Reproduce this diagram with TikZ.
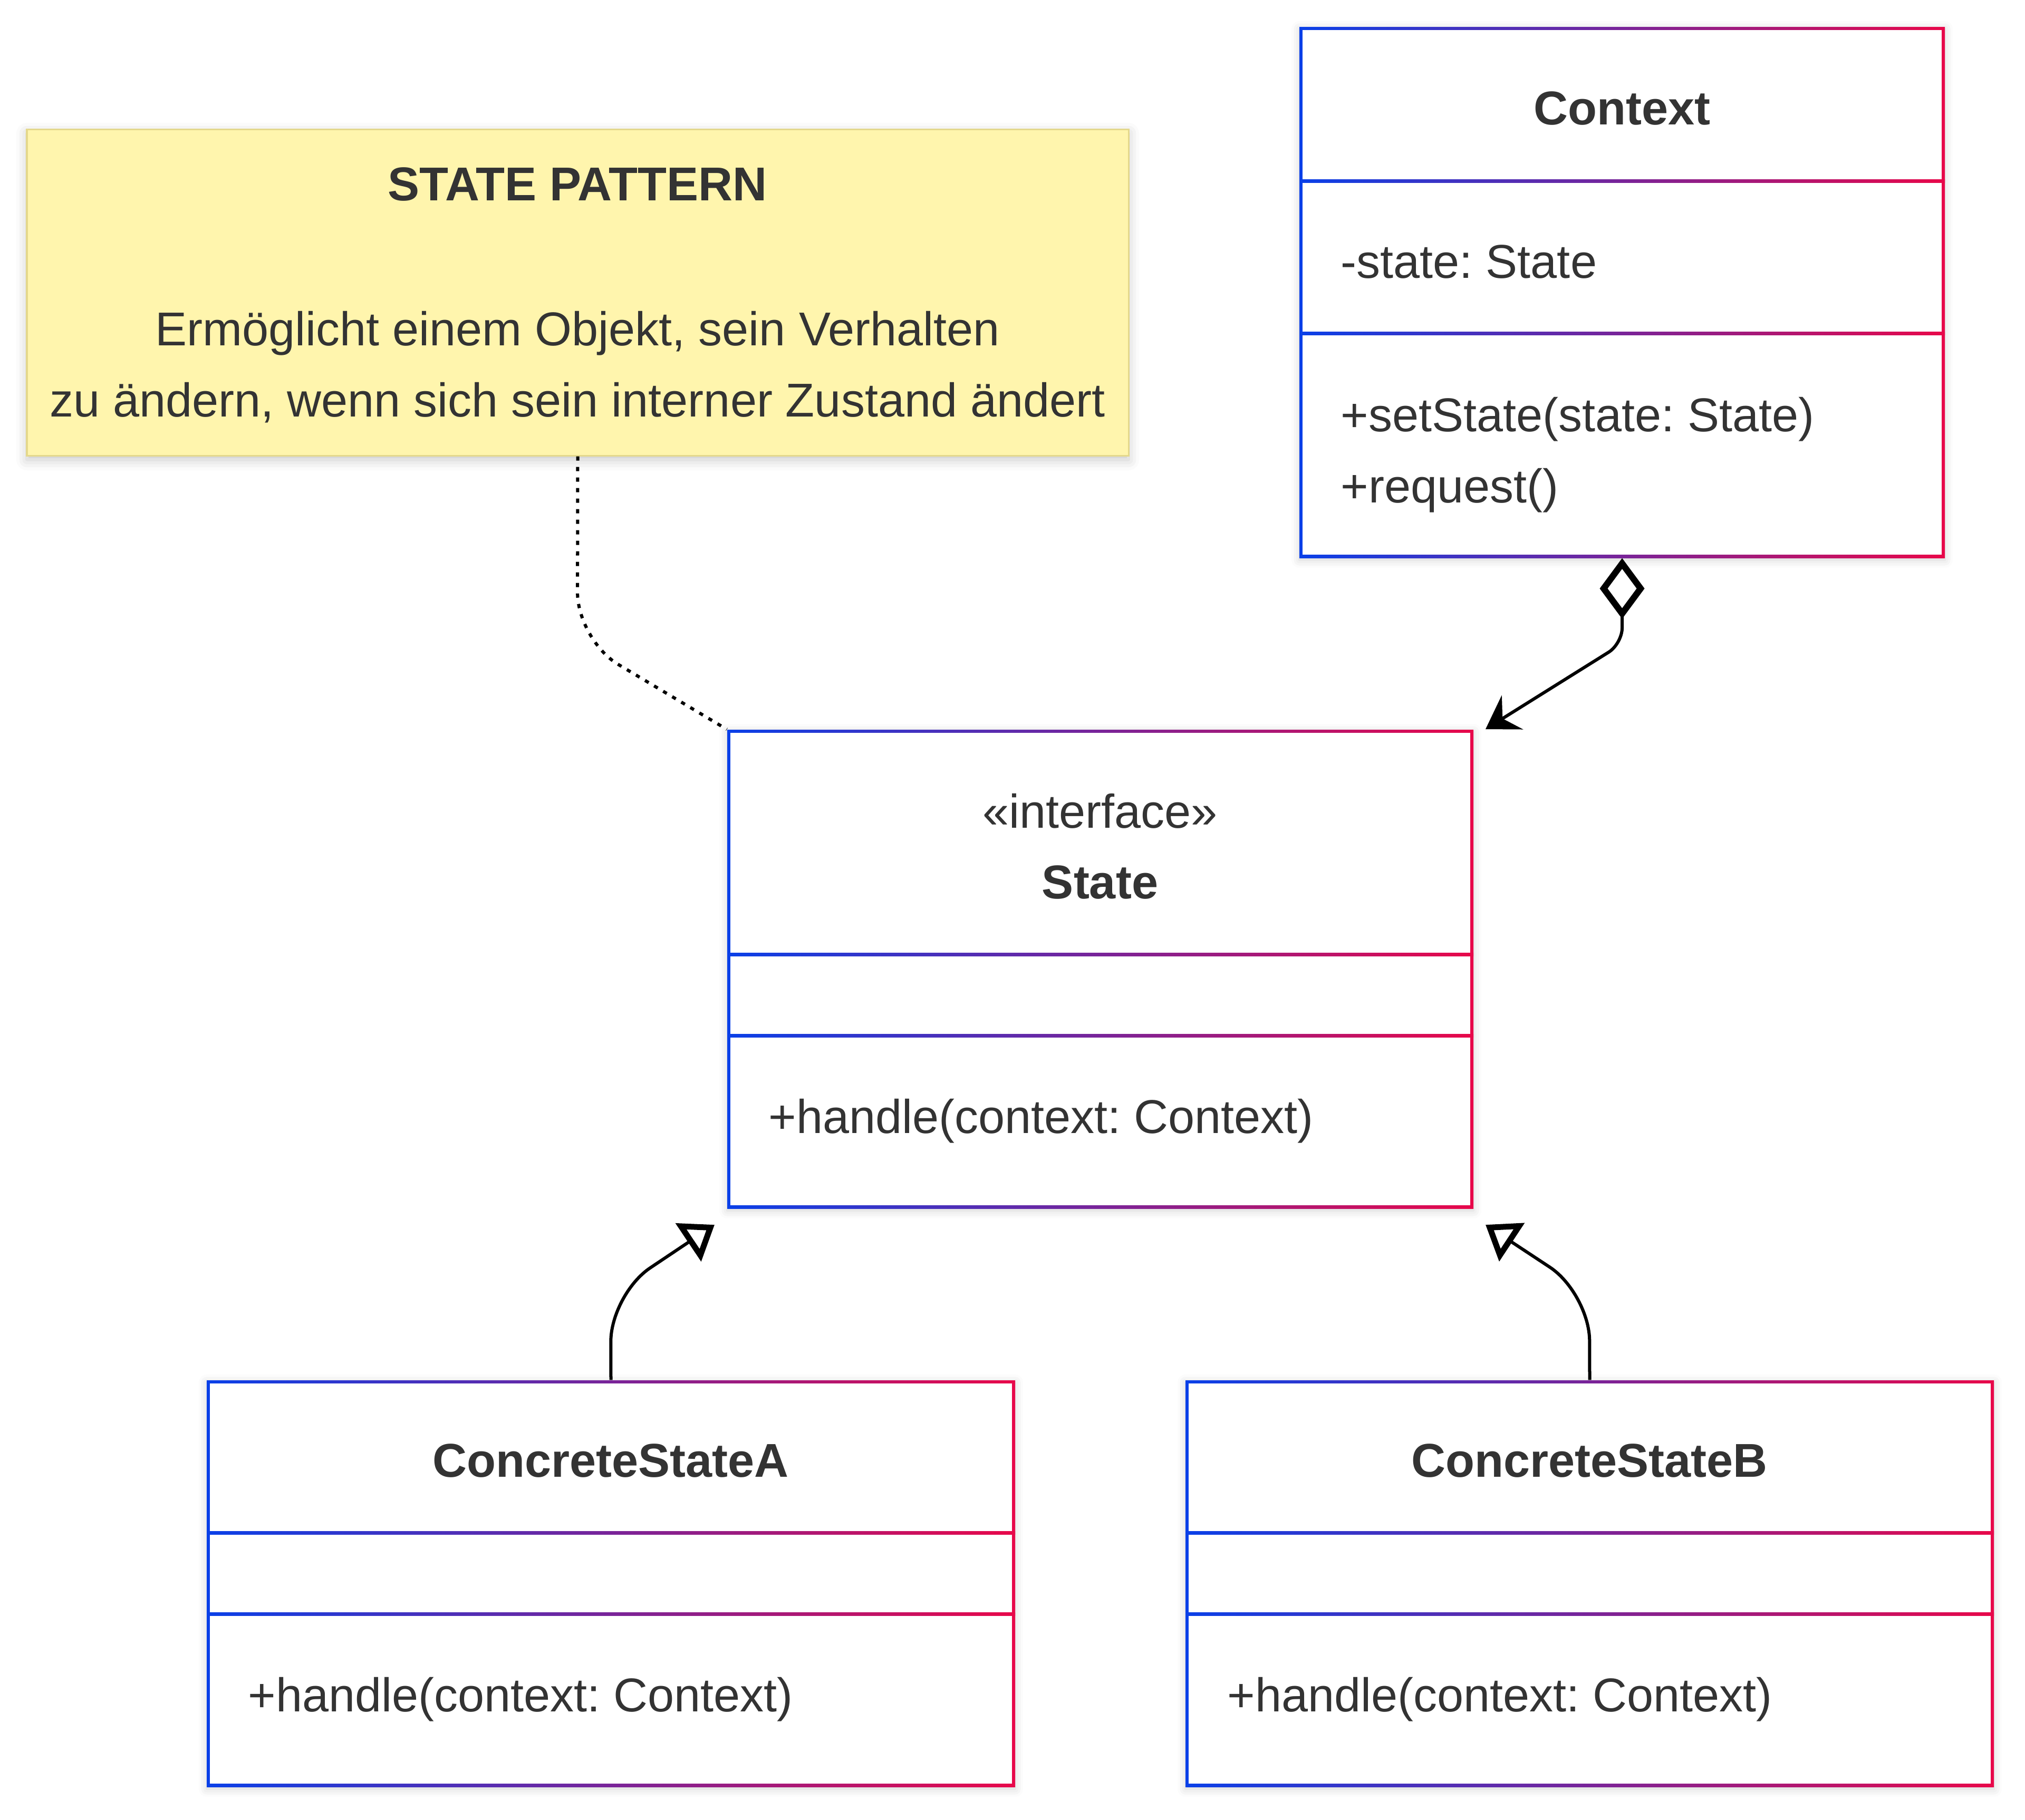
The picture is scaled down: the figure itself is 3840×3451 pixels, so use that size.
\documentclass[tikz,border=0pt]{standalone}
\usepackage{fontspec}
\setmainfont{Liberation Sans}
\frenchspacing
\usetikzlibrary{arrows.meta, positioning, fit, shadows.blur}
\definecolor{UMLBlue}{RGB}{10, 64, 232}
\definecolor{UMLRed}{RGB}{232, 8, 74}
\definecolor{NoteFill}{RGB}{255, 245, 173}
\definecolor{NoteEdge}{RGB}{228, 216, 140}
\definecolor{InkGrey}{RGB}{51, 51, 51}

\begin{document}
\begin{tikzpicture}[x=0.01cm, y=-0.01cm,
		classbox/.style={inner sep=0pt, blur shadow={shadow xshift=0cm, shadow yshift=-0.04cm, shadow blur radius=0.15cm, shadow opacity=18},
			path picture={
				\shade[left color=UMLBlue, right color=UMLRed] (path picture bounding box.south west) rectangle (path picture bounding box.north east);
				\fill[white] ([shift={(0.06cm,0.06cm)}]path picture bounding box.south west) rectangle ([shift={(-0.06cm,-0.06cm)}]path picture bounding box.north east);}},
		divbar/.style={left color=UMLBlue, right color=UMLRed},
		notebox/.style={inner sep=0pt, fill=NoteFill, draw=NoteEdge, line width=0.03cm, blur shadow={shadow xshift=0cm, shadow yshift=-0.08cm, shadow blur radius=0.2cm, shadow opacity=22}},
		txt/.style={inner sep=0pt, text=InkGrey, font=\fontsize{25.6}{38.5}\selectfont},
		ttl/.style={txt, font=\fontsize{25.6}{38.5}\selectfont\bfseries},
		aggr/.style={{Diamond[fill=white, length=1.15cm, width=0.85cm, line width=0.12cm]}-{Stealth[length=0.6cm, width=0.76cm, inset=0.22cm]}, line width=0.06cm, rounded corners=0.3cm},
		gen/.style={-{Triangle[fill=white, length=0.6cm, width=0.85cm, line width=0.11cm]}, line width=0.06cm, rounded corners=0.9cm},
		notelink/.style={line width=0.06cm, dash pattern=on 0.08cm off 0.12cm, rounded corners=0.9cm}]
	\useasboundingbox (0,0) rectangle (3840,3451);
	\node[notebox, fit={(51,245) (2140,864)}] (note) {};
	\foreach \nm/\xa/\ya/\xb/\yb/\da/\db in {context/2464/51/3688/1058/343/632, state/1379/1384/2794/2292/1810/1964, csa/392/2618/1925/3389/2907/3061, csb/2248/2618/3781/3389/2907/3061}{
		\node[classbox, fit={(\xa,\ya) (\xb,\yb)}] (\nm) {};
		\shade[divbar] (\xa,\da-3) rectangle (\xb,\da+3);
		\shade[divbar] (\xa,\db-3) rectangle (\xb,\db+3);
	}
	\node[ttl] (note-title) at (1095,350) {STATE PATTERN};
	\node[txt, align=center] (note-text) at (1095,696) {Ermöglicht einem Objekt, sein Verhalten\\zu ändern, wenn sich sein interner Zustand ändert};
	\node[ttl] (context-name) at (3076,206) {Context};
	\node[txt, anchor=west] (context-attr) at (2542,497) {-state: State};
	\node[txt, anchor=west, align=left] (context-ops) at (2542,863) {+setState(state: State)\\+request()};
	\node[txt] (state-stereo) at (2086,1538) {«interface»};
	\node[ttl] (state-name) at (2086,1673) {State};
	\node[txt, anchor=west] (state-op) at (1457,2126) {+handle(context: Context)};
	\node[ttl] (csa-name) at (1158,2770) {ConcreteStateA};
	\node[txt, anchor=west] (csa-op) at (470,3223) {+handle(context: Context)};
	\node[ttl] (csb-name) at (3014,2770) {ConcreteStateB};
	\node[txt, anchor=west] (csb-op) at (2327,3223) {+handle(context: Context)};
	\coordinate (agg-tip) at (2817,1383);
	\coordinate (genA-tip) at (1355,2323);
	\coordinate (genB-tip) at (2817,2323);
	\draw[aggr] (context.south) -- (3076,1221) -- (agg-tip);
	\draw[gen] (csa.north) -- (1158,2455) -- (genA-tip);
	\draw[gen] (csb.north) -- (3014,2453) -- (genB-tip);
	\draw[notelink] (note.south) -- (1095,1214) -- (state.north west);
\end{tikzpicture}
\end{document}
